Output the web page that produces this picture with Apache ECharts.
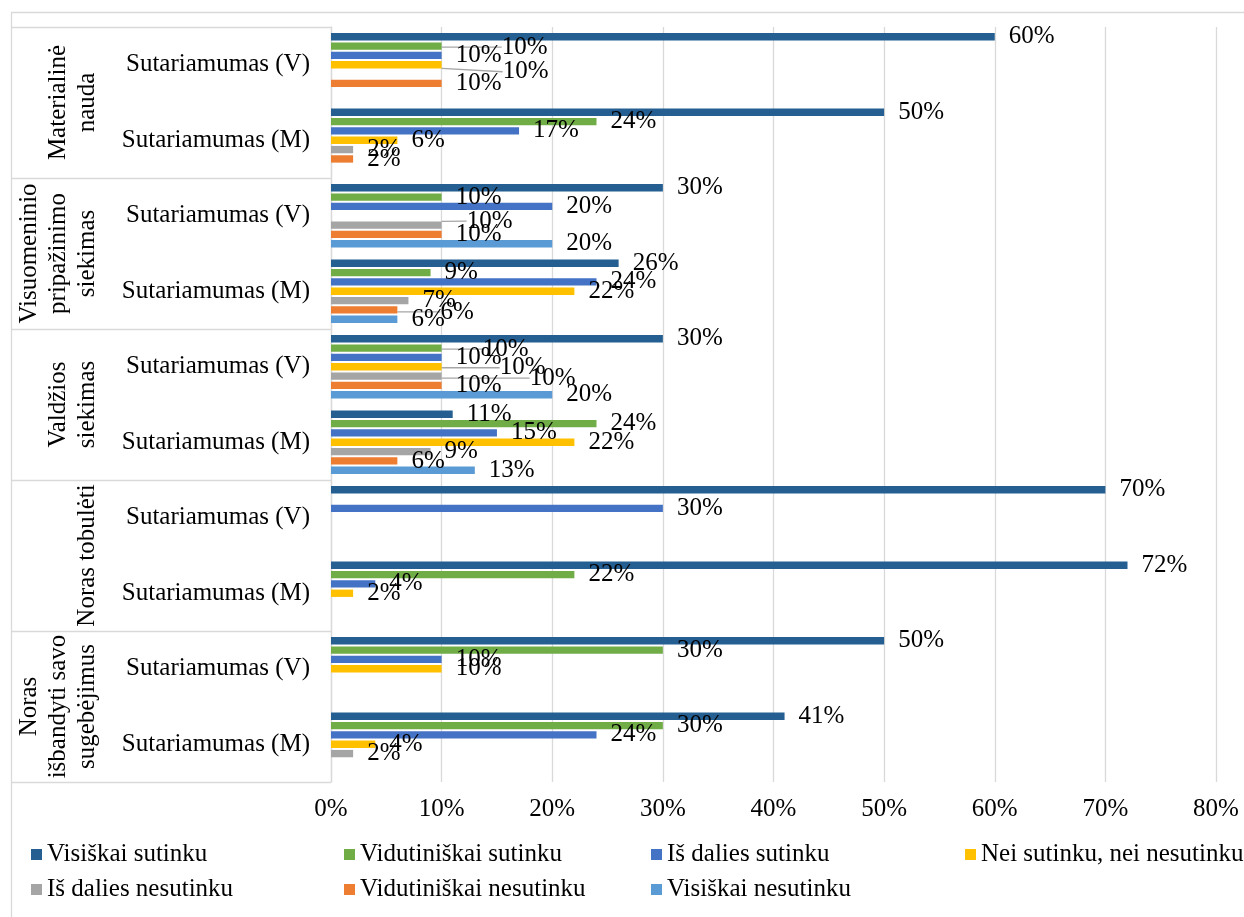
<!DOCTYPE html>
<html>
<head>
<meta charset="utf-8">
<title>Sutariamumas</title>
<script src="https://cdn.jsdelivr.net/npm/echarts@6/dist/echarts.min.js"></script>
<style>
  html, body { margin: 0; padding: 0; background: #ffffff; }
  #chart { width: 1244px; height: 917px; }
</style>
</head>
<body>
<div id="chart"></div>
<script>
// Subcategories (top to bottom) and the groups they belong to
const categories = [
  'Sutariamumas (V)', 'Sutariamumas (M)',
  'Sutariamumas (V)', 'Sutariamumas (M)',
  'Sutariamumas (V)', 'Sutariamumas (M)',
  'Sutariamumas (V)', 'Sutariamumas (M)',
  'Sutariamumas (V)', 'Sutariamumas (M)'
];
const groups = [
  'Materialinė\nnauda',
  'Visuomeninio\npripažinimo\nsiekimas',
  'Valdžios\nsiekimas',
  'Noras tobulėti',
  'Noras\nišbandyti savo\nsugebėjimus'
];

// Answer options (series names)
const seriesNames = [
  'Visiškai sutinku',
  'Vidutiniškai sutinku',
  'Iš dalies sutinku',
  'Nei sutinku, nei nesutinku',
  'Iš dalies nesutinku',
  'Vidutiniškai nesutinku',
  'Visiškai nesutinku'
];

// Shares in percent, one value per subcategory (null = no answer)
const visiskaiSutinku        = [60, 50, 30, 26, 30, 11, 70, 72, 50, 41];
const vidutiniskaiSutinku    = [10, 24, 10, 9, 10, 24, null, 22, 30, 30];
const isDaliesSutinku        = [10, 17, 20, 24, 10, 15, 30, 4, 10, 24];
const neiSutinkuNeiNesutinku = [10, 6, null, 22, 10, 22, null, 2, 10, 4];
const isDaliesNesutinku      = [null, 2, 10, 7, 10, 9, null, null, null, 2];
const vidutiniskaiNesutinku  = [10, 2, 10, 6, 10, 6, null, null, null, null];
const visiskaiNesutinku      = [null, null, 20, 6, 20, 13, null, null, null, null];

// Value axis ticks
const xMin = 0, xMax = 80, xStep = 10;

const seriesValues = [
  visiskaiSutinku, vidutiniskaiSutinku, isDaliesSutinku,
  neiSutinkuNeiNesutinku, isDaliesNesutinku, vidutiniskaiNesutinku,
  visiskaiNesutinku
];
const colors = ['#255E91', '#70AD47', '#4472C4', '#FFC000', '#A5A5A5', '#ED7D31', '#5B9BD5'];

const FONT = "'Times New Roman', 'Liberation Serif', serif";
const LINE = '#d9d9d9';
const FS = 25;

// Labels that were pulled aside to avoid overlaps: "series-category" -> [dx, dy]
const labelShift = {
  '1-0': [46, 1], '3-0': [47, 7],
  '4-2': [11, -4],
  '5-3': [29, 2],
  '1-4': [27, 1], '3-4': [44, 1], '4-4': [74, 2]
};

const chart = echarts.init(document.getElementById('chart'), null, { renderer: 'canvas' });

// Legend laid out as a grid: four items in the first row, three in the second
const legendCols = [31, 344, 651, 965];
const legendRows = [842, 877];
const legends = seriesNames.map((name, i) => ({
  data: [name],
  left: legendCols[i % 4],
  top: legendRows[Math.floor(i / 4)],
  padding: 0,
  icon: 'rect',
  itemWidth: 11,
  itemHeight: 11,
  selectedMode: false,
  textStyle: { fontFamily: FONT, fontSize: FS, color: '#000' }
}));

function buildData(si) {
  return seriesValues[si].map((v, ci) => {
    if (labelShift[si + '-' + ci]) {
      return { value: v, labelLine: { show: true } };
    }
    return v;
  });
}

const option = {
  backgroundColor: '#ffffff',
  animation: false,
  color: colors,
  graphic: [{
    type: 'rect',
    silent: true,
    z: -10,
    shape: { x: 11.5, y: 12.5, width: 1400, height: 1000 },
    style: { fill: 'none', stroke: LINE, lineWidth: 1.3 }
  }],
  legend: legends,
  grid: { left: 331, right: 28, top: 27, bottom: 135, containLabel: false },
  xAxis: {
    type: 'value',
    min: xMin,
    max: xMax,
    interval: xStep,
    axisLine: { show: false },
    axisTick: { show: false },
    splitLine: { show: true, lineStyle: { color: LINE, width: 1.3 } },
    axisLabel: {
      formatter: '{value}%',
      fontFamily: FONT,
      fontSize: FS,
      color: '#000',
      margin: 15
    }
  },
  yAxis: [
    {
      type: 'category',
      data: categories,
      inverse: true,
      position: 'left',
      axisLine: { show: true, lineStyle: { color: LINE, width: 1.3 } },
      axisTick: { show: false },
      axisLabel: {
        interval: 0,
        fontFamily: FONT,
        fontSize: FS,
        color: '#000',
        margin: 21
      }
    },
    {
      type: 'category',
      data: groups,
      inverse: true,
      position: 'left',
      offset: 0,
      axisLine: { show: false },
      axisTick: {
        show: true,
        interval: 0,
        length: 320,
        lineStyle: { color: LINE, width: 1.3 }
      },
      axisLabel: {
        interval: 0,
        rotate: 90,
        fontFamily: FONT,
        fontSize: FS,
        lineHeight: 29,
        color: '#000',
        margin: 229,
        align: 'center'
      }
    }
  ],
  series: seriesNames.map((name, i) => ({
    name: name,
    type: 'bar',
    yAxisIndex: 0,
    data: buildData(i),
    barGap: '27%',
    barCategoryGap: '16%',
    itemStyle: { color: colors[i] },
    label: {
      show: true,
      position: 'right',
      distance: 14,
      fontFamily: FONT,
      fontSize: FS,
      color: '#000',
      formatter: p => (p.value == null ? '' : p.value + '%')
    },
    labelLine: { show: false, lineStyle: { color: '#a6a6a6', width: 1.3 } },
    labelLayout: p => {
      const s = labelShift[p.seriesIndex + '-' + p.dataIndex];
      return s ? { dx: s[0], dy: s[1] } : {};
    }
  }))
};

chart.setOption(option);
</script>
</body>
</html>
